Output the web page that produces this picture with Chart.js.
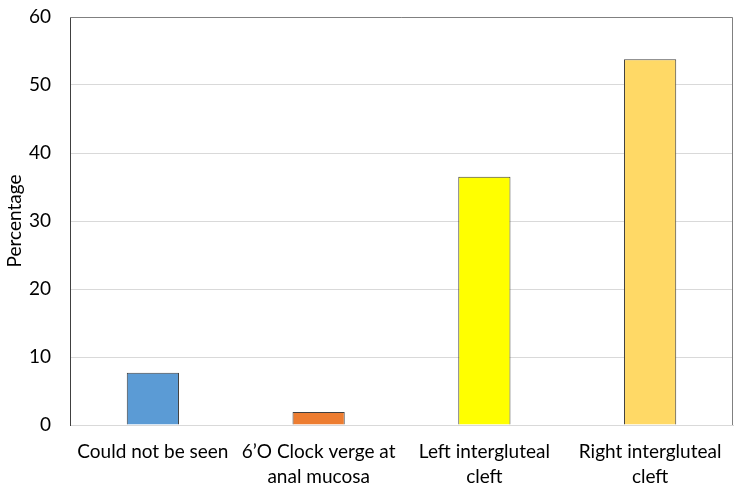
<!DOCTYPE html>
<html>
<head>
<meta charset="utf-8">
<script src="https://cdn.jsdelivr.net/npm/chart.js@4"></script>
<style>
html,body{margin:0;padding:0;background:#fff;}
#wrap{width:750px;height:493px;position:relative;}
</style>
</head>
<body>
<div id="wrap"><canvas id="c"></canvas></div>
<script>
const categories = [["Could not be seen"], ["6\u2019O Clock verge at", "anal mucosa"], ["Left intergluteal", "cleft"], ["Right intergluteal", "cleft"]];
const percentages = [7.7, 1.9, 36.5, 53.8];
const barColors = ["#5B9BD5", "#ED7D31", "#FFFF00", "#FFD966"];
const yTitle = "Percentage";

const FONT = "Lato, 'Open Sans', sans-serif";

const frame = {
  id: 'frame',
  afterDraw(chart) {
    const a = chart.chartArea, ctx = chart.ctx;
    ctx.save();
    ctx.strokeStyle = '#808080';
    ctx.lineWidth = 1;
    ctx.beginPath();
    ctx.moveTo(a.left, a.top + 0.5);
    ctx.lineTo(a.right - 0.5, a.top + 0.5);
    ctx.lineTo(a.right - 0.5, a.bottom);
    ctx.stroke();
    ctx.restore();
  }
};

new Chart(document.getElementById('c'), {
  type: 'bar',
  data: {
    labels: categories,
    datasets: [{
      data: percentages,
      backgroundColor: barColors,
      borderColor: '#404040',
      borderWidth: 1,
      borderSkipped: 'start',
      categoryPercentage: 1,
      barPercentage: 0.315
    }]
  },
  options: {
    responsive: true,
    maintainAspectRatio: false,
    animation: false,
    layout: { padding: { left: 0, top: 17, right: 17, bottom: 0 } },
    plugins: { legend: { display: false }, tooltip: { enabled: false } },
    scales: {
      x: {
        grid: { display: false, drawTicks: false },
        border: { display: true, color: '#d9d9d9' },
        ticks: { color: '#000', font: { family: FONT, size: 19, lineHeight: 1.32 }, padding: 14, maxRotation: 0, autoSkip: false },
        afterFit(s) { s.height = 68; s.paddingLeft = 0; s.paddingRight = 0; }
      },
      y: {
        min: 0, max: 60,
        ticks: { stepSize: 10, color: '#000', font: { family: FONT, size: 19 }, padding: 19 },
        grid: { color: '#d9d9d9', drawTicks: false },
        border: { display: true, color: '#404040', width: 1 },
        title: { display: true, text: yTitle, color: '#000', font: { family: FONT, size: 19 }, padding: { top: 3, bottom: 0 } },
        afterFit(s) { s.width = 70; s.paddingTop = 0; s.paddingBottom = 0; }
      }
    }
  },
  plugins: [frame]
});
</script>
</body>
</html>
